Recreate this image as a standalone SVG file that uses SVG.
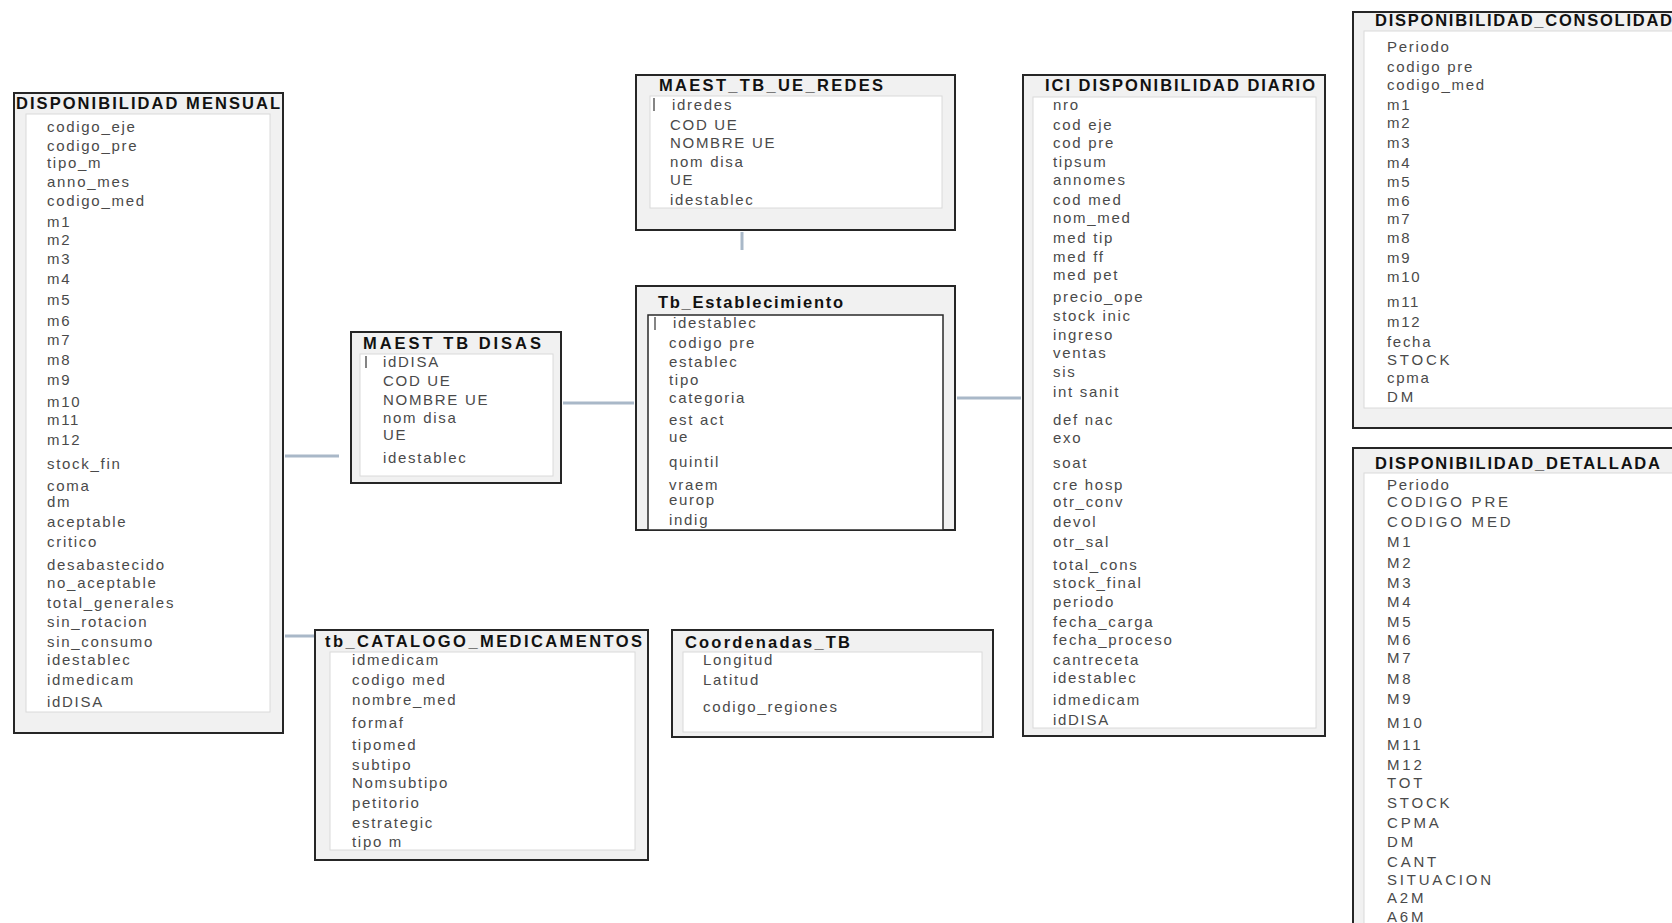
<svg xmlns="http://www.w3.org/2000/svg" width="1672" height="923" viewBox="0 0 1672 923">
  <style>
    .frame { fill: #f1f1f1; stroke: #262626; stroke-width: 2; }
    .panel { fill: #ffffff; stroke: #dadada; stroke-width: 1; }
    .panel-dark { fill: #ffffff; stroke: #2a2a2a; stroke-width: 1.5; }
    .hdr { font-family: "Liberation Sans", Arial, sans-serif; font-weight: bold; font-size: 16.5px; fill: #111; }
    .row { font-family: "Liberation Sans", Arial, sans-serif; font-size: 15px; fill: #4a4a4a; letter-spacing: 1.7px; }
    .up { letter-spacing: 2.8px; }
    .pk { stroke: #333; stroke-width: 1.2; }
    .link { stroke: #a9b8c8; stroke-width: 3; fill: none; }
  </style>

  <!-- relationship lines -->
  <g id="connectors">
    <line class="link" x1="285" y1="456" x2="339" y2="456"/>
    <line class="link" x1="285" y1="636" x2="320" y2="636"/>
    <line class="link" x1="563" y1="403" x2="634" y2="403"/>
    <line class="link" x1="957" y1="398" x2="1021" y2="398"/>
    <line class="link" x1="742" y1="232" x2="742" y2="250"/>
  </g>

  <!-- DISPONIBILIDAD MENSUAL -->
  <g id="disponibilidad_mensual">
    <rect class="frame" x="14" y="93" width="269" height="640"/>
    <rect class="panel" x="26" y="114" width="244" height="598"/>
    <text class="hdr" x="16" y="109" textLength="264" lengthAdjust="spacing">DISPONIBILIDAD  MENSUAL</text>
    <text class="row" x="47" y="132">codigo_eje</text>
    <text class="row" x="47" y="151">codigo_pre</text>
    <text class="row" x="47" y="168">tipo_m</text>
    <text class="row" x="47" y="187">anno_mes</text>
    <text class="row" x="47" y="206">codigo_med</text>
    <text class="row" x="47" y="227">m1</text>
    <text class="row" x="47" y="245">m2</text>
    <text class="row" x="47" y="264">m3</text>
    <text class="row" x="47" y="284">m4</text>
    <text class="row" x="47" y="305">m5</text>
    <text class="row" x="47" y="326">m6</text>
    <text class="row" x="47" y="345">m7</text>
    <text class="row" x="47" y="365">m8</text>
    <text class="row" x="47" y="385">m9</text>
    <text class="row" x="47" y="407">m10</text>
    <text class="row" x="47" y="425">m11</text>
    <text class="row" x="47" y="445">m12</text>
    <text class="row" x="47" y="469">stock_fin</text>
    <text class="row" x="47" y="491">coma</text>
    <text class="row" x="47" y="507">dm</text>
    <text class="row" x="47" y="527">aceptable</text>
    <text class="row" x="47" y="547">critico</text>
    <text class="row" x="47" y="570">desabastecido</text>
    <text class="row" x="47" y="588">no_aceptable</text>
    <text class="row" x="47" y="608">total_generales</text>
    <text class="row" x="47" y="627">sin_rotacion</text>
    <text class="row" x="47" y="647">sin_consumo</text>
    <text class="row" x="47" y="665">idestablec</text>
    <text class="row" x="47" y="685">idmedicam</text>
    <text class="row" x="47" y="707">idDISA</text>
  </g>

  <!-- MAEST TB DISAS -->
  <g id="maest_tb_disas">
    <rect class="frame" x="351" y="332" width="210" height="151"/>
    <rect class="panel" x="360" y="354" width="193" height="122"/>
    <text class="hdr" x="363" y="349" textLength="178" lengthAdjust="spacing">MAEST  TB  DISAS</text>
    <line class="pk" x1="366" y1="356" x2="366" y2="368"/>
    <text class="row" x="383" y="367">idDISA</text>
    <text class="row" x="383" y="386">COD UE</text>
    <text class="row" x="383" y="405">NOMBRE UE</text>
    <text class="row" x="383" y="423">nom disa</text>
    <text class="row" x="383" y="440">UE</text>
    <text class="row" x="383" y="463">idestablec</text>
  </g>

  <!-- MAEST_TB_UE_REDES -->
  <g id="maest_tb_ue_redes">
    <rect class="frame" x="636" y="75" width="319" height="155"/>
    <rect class="panel" x="650" y="96" width="292" height="112"/>
    <text class="hdr" x="659" y="91" textLength="224" lengthAdjust="spacing">MAEST_TB_UE_REDES</text>
    <line class="pk" x1="654" y1="98" x2="654" y2="111"/>
    <text class="row" x="672" y="110">idredes</text>
    <text class="row" x="670" y="130">COD UE</text>
    <text class="row" x="670" y="148">NOMBRE UE</text>
    <text class="row" x="670" y="167">nom disa</text>
    <text class="row" x="670" y="185">UE</text>
    <text class="row" x="670" y="205">idestablec</text>
  </g>

  <!-- Tb_Establecimiento -->
  <g id="tb_establecimiento">
    <rect class="frame" x="636" y="286" width="319" height="244"/>
    <rect class="panel-dark" x="648" y="315" width="295" height="215"/>
    <text class="hdr" x="658" y="308" textLength="185" lengthAdjust="spacing">Tb_Establecimiento</text>
    <line class="pk" x1="655" y1="317" x2="655" y2="330"/>
    <text class="row" x="673" y="328">idestablec</text>
    <text class="row" x="669" y="348">codigo pre</text>
    <text class="row" x="669" y="367">establec</text>
    <text class="row" x="669" y="385">tipo</text>
    <text class="row" x="669" y="403">categoria</text>
    <text class="row" x="669" y="425">est act</text>
    <text class="row" x="669" y="442">ue</text>
    <text class="row" x="669" y="467">quintil</text>
    <text class="row" x="669" y="490">vraem</text>
    <text class="row" x="669" y="505">europ</text>
    <text class="row" x="669" y="525">indig</text>
  </g>

  <!-- ICI DISPONIBILIDAD DIARIO -->
  <g id="ici_disponibilidad_diario">
    <rect class="frame" x="1023" y="75" width="302" height="661"/>
    <rect class="panel" x="1033" y="97" width="283" height="631"/>
    <text class="hdr" x="1045" y="91" textLength="270" lengthAdjust="spacing">ICI  DISPONIBILIDAD  DIARIO</text>
    <text class="row" x="1053" y="110">nro</text>
    <text class="row" x="1053" y="130">cod eje</text>
    <text class="row" x="1053" y="148">cod pre</text>
    <text class="row" x="1053" y="167">tipsum</text>
    <text class="row" x="1053" y="185">annomes</text>
    <text class="row" x="1053" y="205">cod med</text>
    <text class="row" x="1053" y="223">nom_med</text>
    <text class="row" x="1053" y="243">med tip</text>
    <text class="row" x="1053" y="262">med ff</text>
    <text class="row" x="1053" y="280">med pet</text>
    <text class="row" x="1053" y="302">precio_ope</text>
    <text class="row" x="1053" y="321">stock inic</text>
    <text class="row" x="1053" y="340">ingreso</text>
    <text class="row" x="1053" y="358">ventas</text>
    <text class="row" x="1053" y="377">sis</text>
    <text class="row" x="1053" y="397">int sanit</text>
    <text class="row" x="1053" y="425">def nac</text>
    <text class="row" x="1053" y="443">exo</text>
    <text class="row" x="1053" y="468">soat</text>
    <text class="row" x="1053" y="490">cre hosp</text>
    <text class="row" x="1053" y="507">otr_conv</text>
    <text class="row" x="1053" y="527">devol</text>
    <text class="row" x="1053" y="547">otr_sal</text>
    <text class="row" x="1053" y="570">total_cons</text>
    <text class="row" x="1053" y="588">stock_final</text>
    <text class="row" x="1053" y="607">periodo</text>
    <text class="row" x="1053" y="627">fecha_carga</text>
    <text class="row" x="1053" y="645">fecha_proceso</text>
    <text class="row" x="1053" y="665">cantreceta</text>
    <text class="row" x="1053" y="683">idestablec</text>
    <text class="row" x="1053" y="705">idmedicam</text>
    <text class="row" x="1053" y="725">idDISA</text>
  </g>

  <!-- DISPONIBILIDAD_CONSOLIDAD -->
  <g id="disponibilidad_consolidad">
    <rect class="frame" x="1353" y="12" width="330" height="416"/>
    <rect class="panel" x="1364" y="31" width="320" height="377"/>
    <text class="hdr" x="1375" y="26" textLength="297" lengthAdjust="spacing">DISPONIBILIDAD_CONSOLIDAD</text>
    <text class="row" x="1387" y="52">Periodo</text>
    <text class="row" x="1387" y="72">codigo pre</text>
    <text class="row" x="1387" y="90">codigo_med</text>
    <text class="row" x="1387" y="110">m1</text>
    <text class="row" x="1387" y="128">m2</text>
    <text class="row" x="1387" y="148">m3</text>
    <text class="row" x="1387" y="168">m4</text>
    <text class="row" x="1387" y="187">m5</text>
    <text class="row" x="1387" y="206">m6</text>
    <text class="row" x="1387" y="224">m7</text>
    <text class="row" x="1387" y="243">m8</text>
    <text class="row" x="1387" y="263">m9</text>
    <text class="row" x="1387" y="282">m10</text>
    <text class="row" x="1387" y="307">m11</text>
    <text class="row" x="1387" y="327">m12</text>
    <text class="row" x="1387" y="347">fecha</text>
    <text class="row up" x="1387" y="365">STOCK</text>
    <text class="row" x="1387" y="383">cpma</text>
    <text class="row up" x="1387" y="402">DM</text>
  </g>

  <!-- DISPONIBILIDAD_DETALLADA -->
  <g id="disponibilidad_detallada">
    <rect class="frame" x="1353" y="448" width="330" height="490"/>
    <rect class="panel" x="1364" y="473" width="320" height="470"/>
    <text class="hdr" x="1375" y="469" textLength="285" lengthAdjust="spacing">DISPONIBILIDAD_DETALLADA</text>
    <text class="row" x="1387" y="490">Periodo</text>
    <text class="row up" x="1387" y="507">CODIGO PRE</text>
    <text class="row up" x="1387" y="527">CODIGO MED</text>
    <text class="row up" x="1387" y="547">M1</text>
    <text class="row up" x="1387" y="568">M2</text>
    <text class="row up" x="1387" y="588">M3</text>
    <text class="row up" x="1387" y="607">M4</text>
    <text class="row up" x="1387" y="627">M5</text>
    <text class="row up" x="1387" y="645">M6</text>
    <text class="row up" x="1387" y="663">M7</text>
    <text class="row up" x="1387" y="684">M8</text>
    <text class="row up" x="1387" y="704">M9</text>
    <text class="row up" x="1387" y="728">M10</text>
    <text class="row up" x="1387" y="750">M11</text>
    <text class="row up" x="1387" y="770">M12</text>
    <text class="row up" x="1387" y="788">TOT</text>
    <text class="row up" x="1387" y="808">STOCK</text>
    <text class="row up" x="1387" y="828">CPMA</text>
    <text class="row up" x="1387" y="847">DM</text>
    <text class="row up" x="1387" y="867">CANT</text>
    <text class="row up" x="1387" y="885">SITUACION</text>
    <text class="row up" x="1387" y="903">A2M</text>
    <text class="row up" x="1387" y="922">A6M</text>
  </g>

  <!-- tb_CATALOGO_MEDICAMENTOS -->
  <g id="tb_catalogo_medicamentos">
    <rect class="frame" x="315" y="630" width="333" height="230"/>
    <rect class="panel" x="330" y="652" width="305" height="198"/>
    <text class="hdr" x="325" y="647" textLength="317" lengthAdjust="spacing">tb_CATALOGO_MEDICAMENTOS</text>
    <text class="row" x="352" y="665">idmedicam</text>
    <text class="row" x="352" y="685">codigo med</text>
    <text class="row" x="352" y="705">nombre_med</text>
    <text class="row" x="352" y="728">formaf</text>
    <text class="row" x="352" y="750">tipomed</text>
    <text class="row" x="352" y="770">subtipo</text>
    <text class="row" x="352" y="788">Nomsubtipo</text>
    <text class="row" x="352" y="808">petitorio</text>
    <text class="row" x="352" y="828">estrategic</text>
    <text class="row" x="352" y="847">tipo m</text>
  </g>

  <!-- Coordenadas_TB -->
  <g id="coordenadas_tb">
    <rect class="frame" x="672" y="630" width="321" height="107"/>
    <rect class="panel" x="683" y="652" width="299" height="80"/>
    <text class="hdr" x="685" y="648" textLength="165" lengthAdjust="spacing">Coordenadas_TB</text>
    <text class="row" x="703" y="665">Longitud</text>
    <text class="row" x="703" y="685">Latitud</text>
    <text class="row" x="703" y="712">codigo_regiones</text>
  </g>
</svg>
